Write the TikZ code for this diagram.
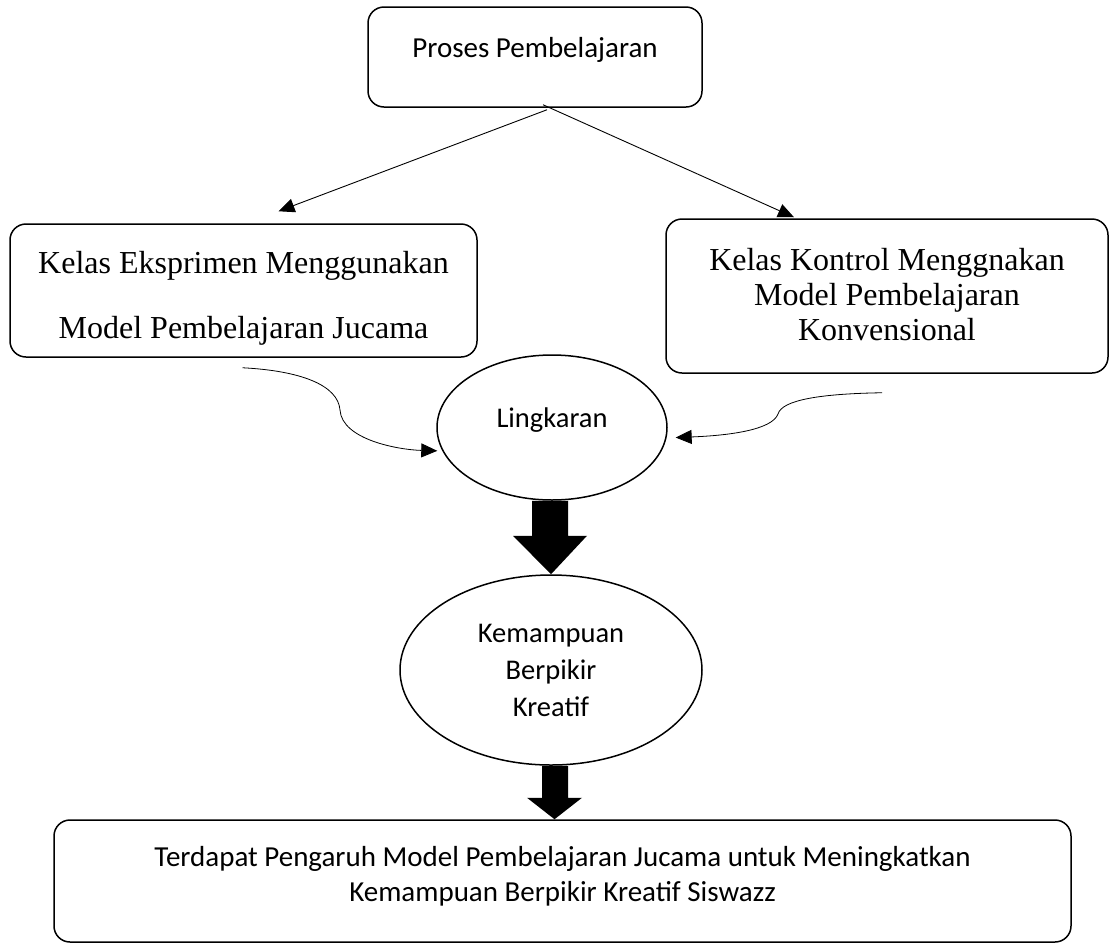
\documentclass[tikz,border=0pt]{standalone}
\usepackage{fontspec}
\setmainfont{Liberation Serif}
\newfontfamily\calibri{Carlito}
\usetikzlibrary{arrows.meta,positioning,calc,shapes.geometric}

\begin{document}
\begin{tikzpicture}[
    x=1pt, y=-1pt,
    >={Triangle[length=16pt,width=14pt]},
    box/.style={draw, line width=1.5pt, rounded corners=16pt},
    oval/.style={draw, ellipse, line width=1.5pt, inner sep=0pt, align=center, font=\calibri\fontsize{28.5}{37}\selectfont},
    sans/.style={inner sep=0pt, align=center, font=\calibri\fontsize{29}{35}\selectfont},
    serif/.style={inner sep=0pt, align=center},
    arr/.style={->, line width=0.9pt},
    blockarr/.style={fill=black}
]
    \useasboundingbox (0,0) rectangle (1111,946);

    % boxes
    \node[box, minimum width=334pt, minimum height=100pt] (proc) at (535,57) {};
    \node[box, minimum width=467pt, minimum height=133pt] (eks) at (243.5,290.5) {};
    \node[box, minimum width=442pt, minimum height=154pt] (kon) at (887,296) {};
    \node[box, minimum width=1017pt, minimum height=122pt] (hasil) at (562.5,881) {};

    \node[sans, below=31pt of proc.north] (proctxt) {Proses Pembelajaran};
    \node[serif, font=\fontsize{32}{65}\selectfont, below=28pt of eks.north] (ekstxt) {Kelas Eksprimen Menggunakan\\Model Pembelajaran Jucama};
    \node[serif, font=\fontsize{32}{35}\selectfont, below=30pt of kon.north] (kontxt) {Kelas Kontrol Menggnakan\\Model Pembelajaran\\Konvensional};
    \node[sans, below=27pt of hasil.north] (hasiltxt) {Terdapat Pengaruh Model Pembelajaran Jucama untuk Meningkatkan\\Kemampuan Berpikir Kreatif Siswazz};

    % ellipses
    \node[oval, minimum width=230pt, minimum height=145pt, text height=19pt, text depth=20pt] (lingk) at (552,427.5) {Lingkaran};
    \node[oval, minimum width=302pt, minimum height=190pt] (kem) at (551,670) {Kemampuan\\Berpikir\\Kreatif};

    % connectors
    \draw[arr] ($(proc.south)+(12,2)$) -- ($(eks.north)+(35,-12)$);
    \draw[arr] ($(proc.south)+(8,-3)$) -- ($(kon.north)+(-93,-1)$);

    \coordinate (lbend) at (340,410);
    \coordinate (rbend) at (778,414);
    \draw[arr, line width=0.8pt] ($(eks.south)+(-1,10)$) .. controls +(58,3) and +(-2,-25) .. (lbend)
        .. controls +(2,30) and +(-38,-1) .. ($(lingk.192)+(-5,0)$);
    \draw[arr, line width=0.8pt] ($(kon.south)+(-5,19)$) .. controls +(-62,1) and +(4,-14) .. (rbend)
        .. controls +(-6,16) and +(53,-2) .. ($(lingk.-5)+(9,0)$);

    % block arrows
    \fill[blockarr] ($(lingk.south)+(-20,0)$) -- ($(lingk.south)+(16,0)$) -- ($(lingk.south)+(16,35)$)
        -- ($(lingk.south)+(35,35)$) -- (kem.north) -- ($(lingk.south)+(-39,35)$) -- ($(lingk.south)+(-20,35)$) -- cycle;
    \fill[blockarr] ($(kem.south)+(-9,0)$) -- ($(kem.south)+(17,0)$) -- ($(kem.south)+(17,32)$)
        -- ($(kem.south)+(31,32)$) -- ($(hasil.north)+(-8,0)$) -- ($(kem.south)+(-24,32)$) -- ($(kem.south)+(-9,32)$) -- cycle;
\end{tikzpicture}
\end{document}
